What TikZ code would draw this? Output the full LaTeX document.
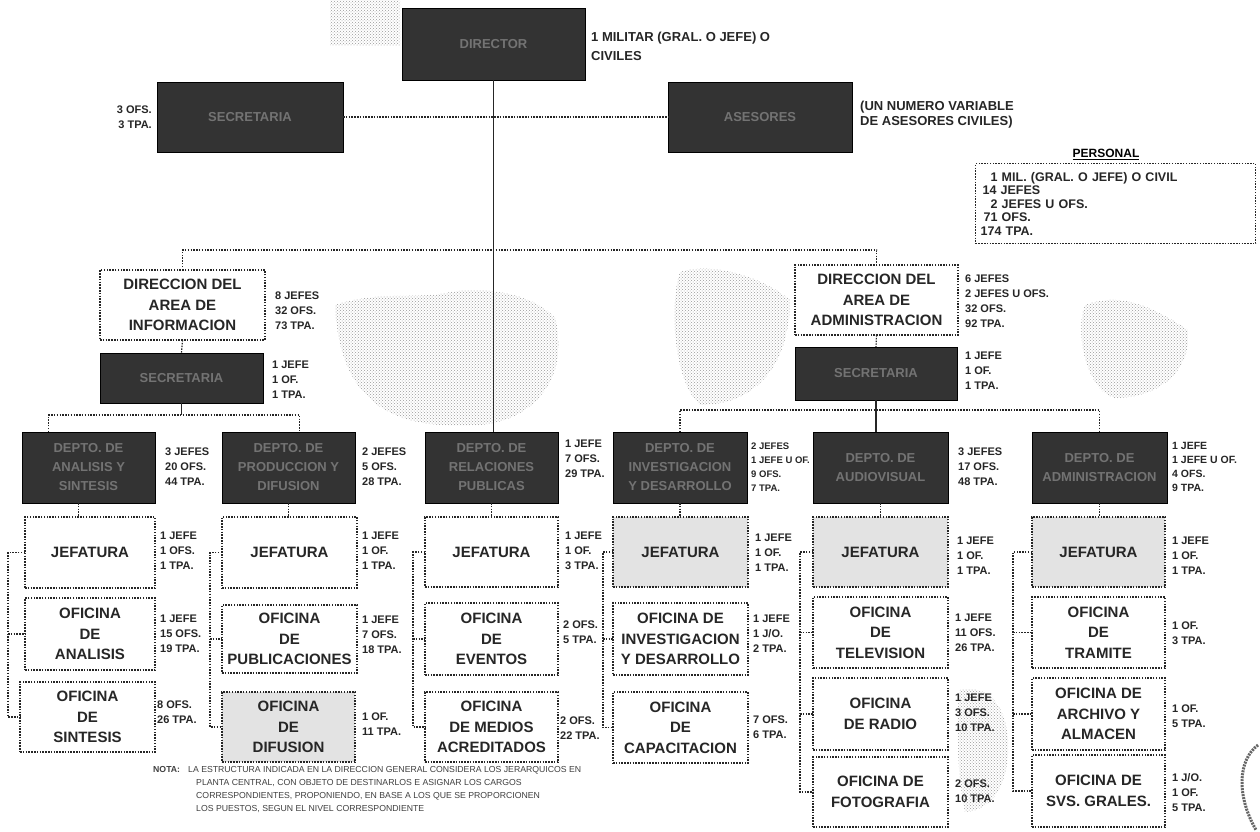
\documentclass[tikz,border=0pt]{standalone}
\usepackage{fontspec}
\setmainfont{Liberation Sans}
\usetikzlibrary{patterns}
\newcommand\bxfont{\fontsize{15}{20.5}\selectfont\bfseries}
\newcommand\dkfont{\fontsize{13}{19}\selectfont\bfseries}
\newcommand\lbfont{\fontsize{11}{15}\selectfont\bfseries}
\newcommand\bx[7]{\node[#1, anchor=north west, minimum width=#5pt, minimum height=#6pt] (#2) at (#3,#4) {#7};}
\newcommand\lb[4]{\node[lbl] (#1) at (#2,#3) {#4};}
\begin{document}
\begin{tikzpicture}[x=1pt,y=-1pt,
  dotl/.style={line width=1.2pt, dash pattern=on 1.5pt off 1.3pt},
  wbox/.style={draw=black!85, dotl, fill=white, inner sep=0pt, outer sep=0pt, align=center, font=\bxfont, text=black!85},
  gbox/.style={wbox, fill=black!11},
  dbox/.style={draw=black, line width=1pt, fill=black!80, inner sep=0pt, outer sep=0pt, align=center, font=\dkfont, text=black!55},
  lbl/.style={anchor=west, align=left, font=\lbfont, inner sep=0pt, text=black!85},
  conn/.style={dotl, draw=black!85},
  stip/.style={pattern=crosshatch dots, pattern color=black!40}]
\useasboundingbox (0,0) rectangle (1260,831);
\fill[white] (0,0) rectangle (1260,831);
% faint scan blotches
\fill[stip] (335,305) .. controls (380,290) and (420,300) .. (450,292) .. controls (500,285) and (540,300) .. (555,318) .. controls (570,370) and (540,420) .. (480,425) .. controls (400,430) and (340,410) .. (335,305) -- cycle;
\fill[stip] (680,272) .. controls (710,262) and (760,275) .. (790,300) .. controls (790,360) and (760,405) .. (700,405) .. controls (672,380) and (670,300) .. (680,272) -- cycle;
\fill[stip] (1085,305) .. controls (1120,292) and (1150,305) .. (1188,330) .. controls (1192,370) and (1160,398) .. (1115,398) .. controls (1085,390) and (1075,330) .. (1085,305) -- cycle;
\fill[stip] (960,690) .. controls (985,685) and (1005,700) .. (1008,740) .. controls (1010,780) and (995,810) .. (965,812) .. controls (958,780) and (955,720) .. (960,690) -- cycle;
\fill[stip] (330,0) rectangle (400,45);
\draw[line width=3pt, black!60, dash pattern=on 2pt off 1pt] (1258,745) .. controls (1238,760) and (1236,795) .. (1256,830);

% top level
\bx{dbox}{top}{402}{8}{183}{72}{DIRECTOR}
\bx{dbox}{sec}{157}{82}{186}{70}{SECRETARIA}
\bx{dbox}{ase}{668}{82}{184}{70}{ASESORES}
\node[lbl, font=\fontsize{13}{19}\selectfont\bfseries] (topl) at (591,46) {1 MILITAR (GRAL. O JEFE) O\\CIVILES};
\node[lbl, anchor=east, align=right] (secl) at (152,117) {3 OFS.\\3 TPA.};
\node[lbl, font=\fontsize{13}{15}\selectfont\bfseries] (asel) at (860,115) {(UN NUMERO VARIABLE\\DE ASESORES CIVILES)};

% personal
\node[font=\fontsize{12}{13}\selectfont\bfseries, inner sep=0pt, anchor=south] (perst) at (1106,160) {\underline{PERSONAL}};
\node[draw=black!85, dotl, anchor=north west, minimum height=80pt, text width=270pt, inner xsep=5pt, inner ysep=0pt, align=left, font=\fontsize{12.5}{13.5}\selectfont\bfseries, text=black!85] (pers) at (975,163) {\hspace*{10pt}1 MIL. (GRAL. O JEFE) O CIVIL\\\hspace*{2pt}14 JEFES\\\hspace*{10pt}2 JEFES U OFS.\\\hspace*{3pt}71 OFS.\\174 TPA.};

% direcciones
\bx{wbox}{dinfo}{100}{270}{165}{70}{DIRECCION DEL\\AREA DE\\INFORMACION}
\lb{dinfol}{275}{311}{8 JEFES\\32 OFS.\\73 TPA.}
\bx{dbox}{sinfo}{100}{353}{163}{50}{SECRETARIA}
\lb{sinfol}{272}{380}{1 JEFE\\1 OF.\\1 TPA.}
\bx{wbox}{dadm}{795}{265}{163}{70}{DIRECCION DEL\\AREA DE\\ADMINISTRACION}
\lb{dadml}{965}{301}{6 JEFES\\2 JEFES U OFS.\\32 OFS.\\92 TPA.}
\bx{dbox}{sadm}{795}{347}{162}{53}{SECRETARIA}
\lb{sadml}{965}{371}{1 JEFE\\1 OF.\\1 TPA.}

% departamentos
\bx{dbox}{d1}{22}{432}{133}{71}{DEPTO. DE\\ANALISIS Y\\SINTESIS}
\bx{dbox}{d2}{222}{432}{133}{71}{DEPTO. DE\\PRODUCCION Y\\DIFUSION}
\bx{dbox}{d3}{425}{432}{133}{71}{DEPTO. DE\\RELACIONES\\PUBLICAS}
\bx{dbox}{d4}{613}{432}{134}{71}{DEPTO. DE\\INVESTIGACION\\Y DESARROLLO}
\bx{dbox}{d5}{813}{432}{135}{71}{DEPTO. DE\\AUDIOVISUAL}
\bx{dbox}{d6}{1032}{432}{135}{71}{DEPTO. DE\\ADMINISTRACION}
\lb{d1l}{165}{467}{3 JEFES\\20 OFS.\\44 TPA.}
\lb{d2l}{362}{467}{2 JEFES\\5 OFS.\\28 TPA.}
\lb{d3l}{565}{459}{1 JEFE\\7 OFS.\\29 TPA.}
\node[lbl, font=\fontsize{9.5}{14}\selectfont\bfseries] (d4l) at (751,467) {2 JEFES\\1 JEFE U OF.\\9 OFS.\\7 TPA.};
\lb{d5l}{958}{467}{3 JEFES\\17 OFS.\\48 TPA.}
\node[lbl, font=\fontsize{10.5}{14}\selectfont\bfseries] (d6l) at (1172,467) {1 JEFE\\1 JEFE U OF.\\4 OFS.\\9 TPA.};

% jefaturas
\bx{wbox}{j1}{25}{517}{130}{71}{JEFATURA}
\bx{wbox}{j2}{222}{517}{135}{71}{JEFATURA}
\bx{wbox}{j3}{425}{517}{133}{70}{JEFATURA}
\bx{gbox}{j4}{613}{517}{135}{70}{JEFATURA}
\bx{gbox}{j5}{813}{517}{135}{70}{JEFATURA}
\bx{gbox}{j6}{1032}{517}{133}{70}{JEFATURA}
\lb{j1l}{160}{551}{1 JEFE\\1 OFS.\\1 TPA.}
\lb{j2l}{362}{551}{1 JEFE\\1 OF.\\1 TPA.}
\lb{j3l}{565}{551}{1 JEFE\\1 OF.\\3 TPA.}
\lb{j4l}{755}{553}{1 JEFE\\1 OF.\\1 TPA.}
\lb{j5l}{957}{556}{1 JEFE\\1 OF.\\1 TPA.}
\lb{j6l}{1172}{556}{1 JEFE\\1 OF.\\1 TPA.}

% oficinas
\bx{wbox}{o1a}{25}{598}{130}{72}{OFICINA\\DE\\ANALISIS}
\bx{wbox}{o1b}{20}{682}{135}{70}{OFICINA\\DE\\SINTESIS}
\bx{wbox}{o2a}{222}{605}{135}{68}{OFICINA\\DE\\PUBLICACIONES}
\bx{gbox}{o2b}{222}{692}{133}{70}{OFICINA\\DE\\DIFUSION}
\bx{wbox}{o3a}{425}{603}{133}{72}{OFICINA\\DE\\EVENTOS}
\bx{wbox}{o3b}{425}{692}{133}{70}{OFICINA\\DE MEDIOS\\ACREDITADOS}
\bx{wbox}{o4a}{613}{603}{135}{72}{OFICINA DE\\INVESTIGACION\\Y DESARROLLO}
\bx{wbox}{o4b}{613}{692}{135}{71}{OFICINA\\DE\\CAPACITACION}
\bx{wbox}{o5a}{813}{597}{135}{71}{OFICINA\\DE\\TELEVISION}
\bx{wbox}{o5b}{813}{678}{135}{72}{OFICINA\\DE RADIO}
\bx{wbox}{o5c}{813}{757}{135}{70}{OFICINA DE\\FOTOGRAFIA}
\bx{wbox}{o6a}{1032}{597}{133}{71}{OFICINA\\DE\\TRAMITE}
\bx{wbox}{o6b}{1032}{678}{133}{72}{OFICINA DE\\ARCHIVO Y\\ALMACEN}
\bx{wbox}{o6c}{1032}{755}{133}{72}{OFICINA DE\\SVS. GRALES.}
\lb{o1al}{160}{634}{1 JEFE\\15 OFS.\\19 TPA.}
\lb{o1bl}{157}{712}{8 OFS.\\26 TPA.}
\lb{o2al}{362}{635}{1 JEFE\\7 OFS.\\18 TPA.}
\lb{o2bl}{362}{724}{1 OF.\\11 TPA.}
\lb{o3al}{563}{632}{2 OFS.\\5 TPA.}
\lb{o3bl}{560}{728}{2 OFS.\\22 TPA.}
\lb{o4al}{753}{634}{1 JEFE\\1 J/O.\\2 TPA.}
\lb{o4bl}{753}{727}{7 OFS.\\6 TPA.}
\lb{o5al}{955}{633}{1 JEFE\\11 OFS.\\26 TPA.}
\lb{o5bl}{955}{713}{1 JEFE\\3 OFS.\\10 TPA.}
\lb{o5cl}{955}{791}{2 OFS.\\10 TPA.}
\lb{o6al}{1172}{633}{1 OF.\\3 TPA.}
\lb{o6bl}{1172}{716}{1 OF.\\5 TPA.}
\lb{o6cl}{1172}{793}{1 J/O.\\1 OF.\\5 TPA.}

% nota
\node[inner sep=0pt, anchor=north west, font=\fontsize{8.7}{13}\selectfont\bfseries, text=black!75] (notah) at (153,766) {NOTA:};
\node[inner sep=0pt, anchor=north west, align=left, font=\fontsize{8.7}{13}\selectfont, text=black!75] (nota) at (188,766) {LA ESTRUCTURA INDICADA EN LA DIRECCION GENERAL CONSIDERA LOS JERARQUICOS EN\\\hspace*{8pt}PLANTA CENTRAL, CON OBJETO DE DESTINARLOS E ASIGNAR LOS CARGOS\\\hspace*{8pt}CORRESPONDIENTES, PROPONIENDO, EN BASE A LOS QUE SE PROPORCIONEN\\\hspace*{8pt}LOS PUESTOS, SEGUN EL NIVEL CORRESPONDIENTE};

% connectors
\draw[line width=1.4pt, black!85] (top.south) -- (top.south |- d3.north);
\draw[conn] (sec.east) -- (ase.west);
\coordinate (hm) at (0,250);
\draw[conn] (dinfo.north) -- (dinfo.north |- hm) -- (dadm.north |- hm) -- (dadm.north);
\draw[conn] (dinfo.south) -- (sinfo.north);
\draw[conn] (dadm.south) -- (sadm.north);
\coordinate (hi) at (0,415);
\coordinate (d1t) at ([xshift=-40pt]d1.north);
\coordinate (d2t) at ([xshift=11pt]d2.north);
\draw[line width=1.3pt, black!85] (sinfo.south) -- (sinfo.south |- hi);
\draw[conn] (d1t) -- (d1t |- hi) -- (d2t |- hi) -- (d2t);
\coordinate (ha) at (0,410);
\draw[line width=1.3pt, black!85] (sadm.south) -- (sadm.south |- d5.north);
\draw[conn] (d4.north) -- (d4.north |- ha) -- (d6.north |- ha) -- (d6.north);
\coordinate (c1) at ([xshift=-10pt]d1.south);
\draw[conn] (c1) -- (c1 |- j1.north);
\draw[conn] (d2.south) -- (d2.south |- j2.north);
\draw[conn] (d3.south) -- (d3.south |- j3.north);
\draw[conn] (d4.south) -- (d4.south |- j4.north);
\draw[conn] (d5.south) -- (d5.south |- j5.north);
\draw[conn] (d6.south) -- (d6.south |- j6.north);
% brackets
\coordinate (b1) at (8,0);
\draw[conn] (j1.west) -| (b1 |- o1b.west) -- (o1b.west);
\draw[conn] (b1 |- o1a.west) -- (o1a.west);
\coordinate (b2) at (210,0);
\draw[conn] (j2.west) -| (b2 |- o2b.west) -- (o2b.west);
\draw[conn] (b2 |- o2a.west) -- (o2a.west);
\coordinate (b3) at (413,0);
\draw[conn] (j3.west) -| (b3 |- o3b.west) -- (o3b.west);
\draw[conn] (b3 |- o3a.west) -- (o3a.west);
\coordinate (b4) at (603,0);
\draw[conn] (j4.west) -| (b4 |- o4b.west) -- (o4b.west);
\draw[conn] (b4 |- o4a.west) -- (o4a.west);
\coordinate (b5) at (800,0);
\draw[conn] (j5.west) -| (b5 |- o5c.west) -- (o5c.west);
\draw[conn] (b5 |- o5a.west) -- (o5a.west);
\draw[conn] (b5 |- o5b.west) -- (o5b.west);
\coordinate (b6) at (1013,0);
\draw[conn] (j6.west) -| (b6 |- o6c.west) -- (o6c.west);
\draw[conn] (b6 |- o6a.west) -- (o6a.west);
\draw[conn] (b6 |- o6b.west) -- (o6b.west);
\end{tikzpicture}
\end{document}
